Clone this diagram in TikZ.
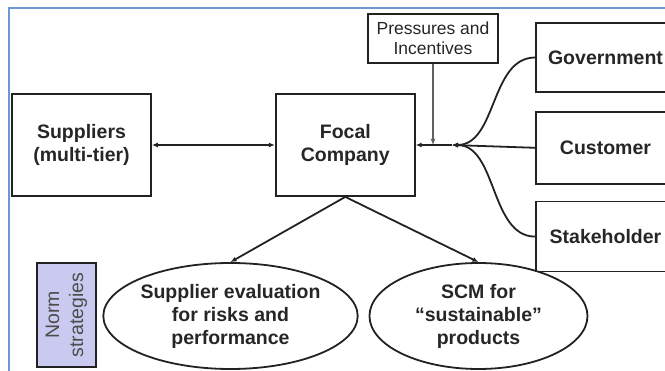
\documentclass[tikz,border=0pt]{standalone}
\usepackage{fontspec}
\setmainfont{Liberation Sans}
\usepackage{tikz}
\usetikzlibrary{positioning}
\usetikzlibrary{shapes.geometric}
\usetikzlibrary{arrows.meta}
\definecolor{framebl}{HTML}{6A98D4}
\definecolor{normfill}{HTML}{CACAF0}
\definecolor{linegray}{HTML}{222222}

\begin{document}
\begin{tikzpicture}[x=1pt, y=-1pt, font=\bfseries\fontsize{19.5}{23}\selectfont]
% Styles:
\tikzset{mybox/.style={draw=linegray, line width=1.8pt, minimum width=139pt, minimum height=102pt, inner sep=0pt, align=center, text=black!85}}
\tikzset{myell/.style={ellipse, draw=linegray, line width=1.8pt, minimum width=223pt, minimum height=106pt, inner sep=0pt, align=center, text=black!85}}
\tikzset{myarrow/.style={draw=linegray, line width=1.8pt, -{Latex[length=6pt,width=5pt]}}}
\tikzset{node distance = 16pt and 123pt}

% Frame:
\useasboundingbox (0,0) rectangle (665,371);
\clip (0,0) rectangle (665,371);
\draw[framebl, line width=1.6pt] (9,400) -- (9,8) -- (700,8);

% Main nodes:
\node[mybox] (sup) at (81.5,145) {Suppliers\\(multi-tier)};
\node[mybox] (focal) [right = of sup] {Focal\\Company};
\node[mybox, line width=1.4pt, font=\mdseries\fontsize{17.5}{20}\selectfont, minimum width=130pt, minimum height=49pt] (press) at (433,38.5) {Pressures and\\Incentives};

% Right nodes:
\node[mybox, minimum height=69pt] (gov) at (605.5,57.5) {Government};
\node[mybox, minimum height=72pt] (cust) [below = 18pt of gov] {Customer};
\node[mybox, minimum height=70pt] (stake) [below = 16pt of cust] {Stakeholder};
\coordinate (hub) at (452,145);

% Lower nodes:
\node[myell] (eval) at (230.5,316) {Supplier evaluation\\for risks and\\performance};
\node[myell, minimum width=218pt] (scm) [right = 10pt of eval] {SCM for\\“sustainable”\\products};
\node[draw=linegray, fill=normfill, line width=1.6pt, minimum width=104pt, minimum height=59pt, rotate=90, inner sep=0pt, align=center, text=black!70, font=\mdseries\fontsize{19.5}{24}\selectfont] (norm) at (66.5,315) {Norm\\strategies};

% Arrows:
\draw[myarrow, {Latex[length=6pt,width=5pt]}-{Latex[length=6pt,width=5pt]}] (sup) -- (focal);
\draw[myarrow] (hub) -- (focal.east |- hub);
\draw[myarrow, draw=gray!75!black, line width=2.4pt] (press.south) -- (press.south |- hub);
\draw[myarrow] (gov.west) .. controls +(-45,0) and +(45,0) .. (hub);
\draw[myarrow] (cust.west) -- (hub);
\draw[myarrow] (stake.west) .. controls +(-45,0) and +(45,0) .. (hub);
\draw[myarrow] (focal.south) -- (eval.north);
\draw[myarrow] (focal.south) -- (scm.north);
\end{tikzpicture}
\end{document}
